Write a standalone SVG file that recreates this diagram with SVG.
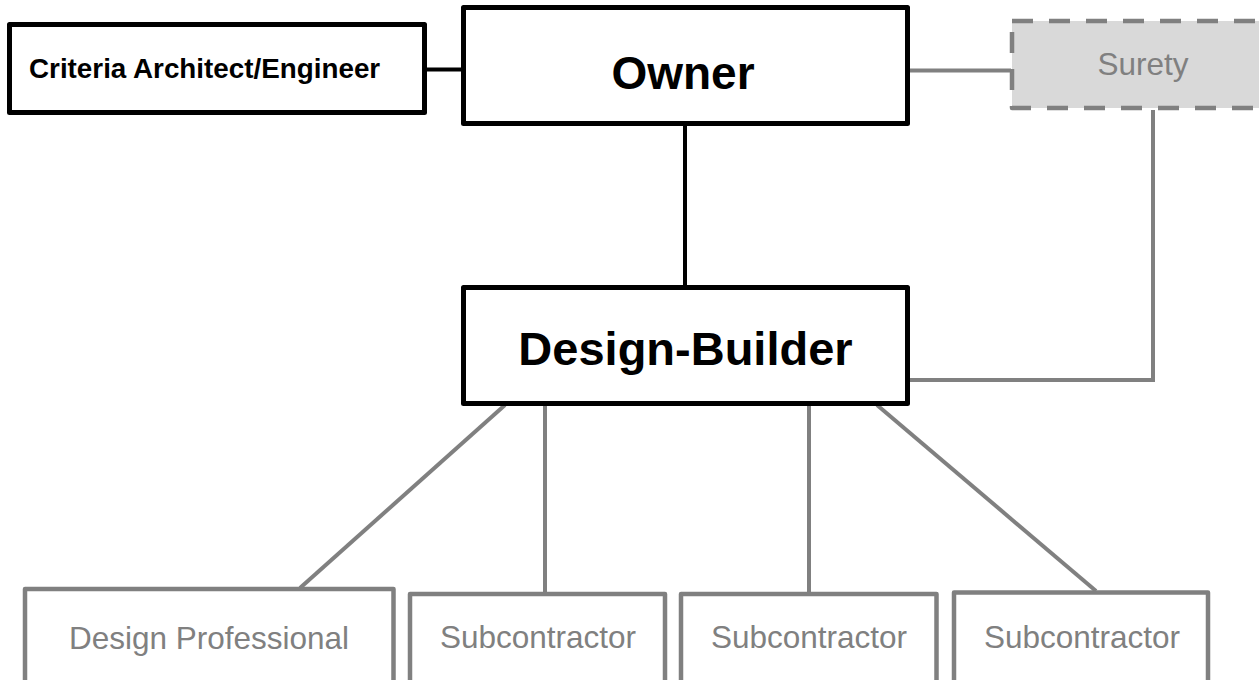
<svg xmlns="http://www.w3.org/2000/svg" width="1259" height="680" viewBox="0 0 1259 680">
  <style>
    .box-main { fill: #ffffff; stroke: #000000; stroke-width: 5; stroke-linejoin: round; }
    .box-sub { fill: #ffffff; stroke: #808080; stroke-width: 4.5; stroke-linejoin: round; }
    .box-dash { fill: #d9d9d9; stroke: #808080; stroke-width: 4.5; stroke-dasharray: 21 16; stroke-linejoin: round; }
    .label-bold { font-family: "Liberation Sans", Arial, sans-serif; font-weight: bold; fill: #000000; }
    .label-gray { font-family: "Liberation Sans", Arial, sans-serif; font-size: 31.5px; fill: #808080; text-anchor: middle; }
    .link-black { fill: none; stroke: #000000; stroke-width: 4; }
    .link-gray { fill: none; stroke: #808080; stroke-width: 4; }
  </style>
  <rect width="1259" height="680" fill="#ffffff"/>

  <!-- connectors -->
  <g id="connectors">
    <line class="link-black" x1="427" y1="69.5" x2="461" y2="69.5"/>
    <line class="link-black" x1="685" y1="126" x2="685" y2="285"/>
    <line class="link-gray" x1="910" y1="70.5" x2="1011" y2="70.5"/>
    <polyline class="link-gray" points="1153,110 1153,380 910,380"/>
    <line class="link-gray" x1="505" y1="405" x2="300" y2="588"/>
    <line class="link-gray" x1="545" y1="406" x2="545" y2="592"/>
    <line class="link-gray" x1="809" y1="406" x2="809" y2="592"/>
    <line class="link-gray" x1="877" y1="405" x2="1096" y2="591"/>
  </g>

  <!-- top row -->
  <g id="criteria">
    <rect class="box-main" x="9.5" y="24.5" width="415" height="88"/>
    <text class="label-bold" x="29" y="77.5" font-size="27.8">Criteria Architect/Engineer</text>
  </g>

  <g id="owner">
    <rect class="box-main" x="463.5" y="7.5" width="444" height="116"/>
    <text class="label-bold" x="683" y="88.5" font-size="46" text-anchor="middle">Owner</text>
  </g>

  <g id="surety">
    <rect class="box-dash" x="1012" y="21" width="262" height="87"/>
    <text class="label-gray" x="1143" y="74.5">Surety</text>
  </g>

  <!-- middle -->
  <g id="design-builder">
    <rect class="box-main" x="463.5" y="287.5" width="444" height="116"/>
    <text class="label-bold" x="685.5" y="364.5" font-size="47" text-anchor="middle">Design-Builder</text>
  </g>

  <!-- bottom row -->
  <g id="design-professional">
    <rect class="box-sub" x="25" y="589" width="368.5" height="120"/>
    <text class="label-gray" x="209" y="649">Design Professional</text>
  </g>

  <g id="subcontractor-1">
    <rect class="box-sub" x="410" y="594" width="255" height="120"/>
    <text class="label-gray" x="538" y="647.5">Subcontractor</text>
  </g>

  <g id="subcontractor-2">
    <rect class="box-sub" x="681" y="594" width="255.5" height="120"/>
    <text class="label-gray" x="809" y="647.5">Subcontractor</text>
  </g>

  <g id="subcontractor-3">
    <rect class="box-sub" x="954" y="592.5" width="254" height="120"/>
    <text class="label-gray" x="1082" y="647.5">Subcontractor</text>
  </g>
</svg>
